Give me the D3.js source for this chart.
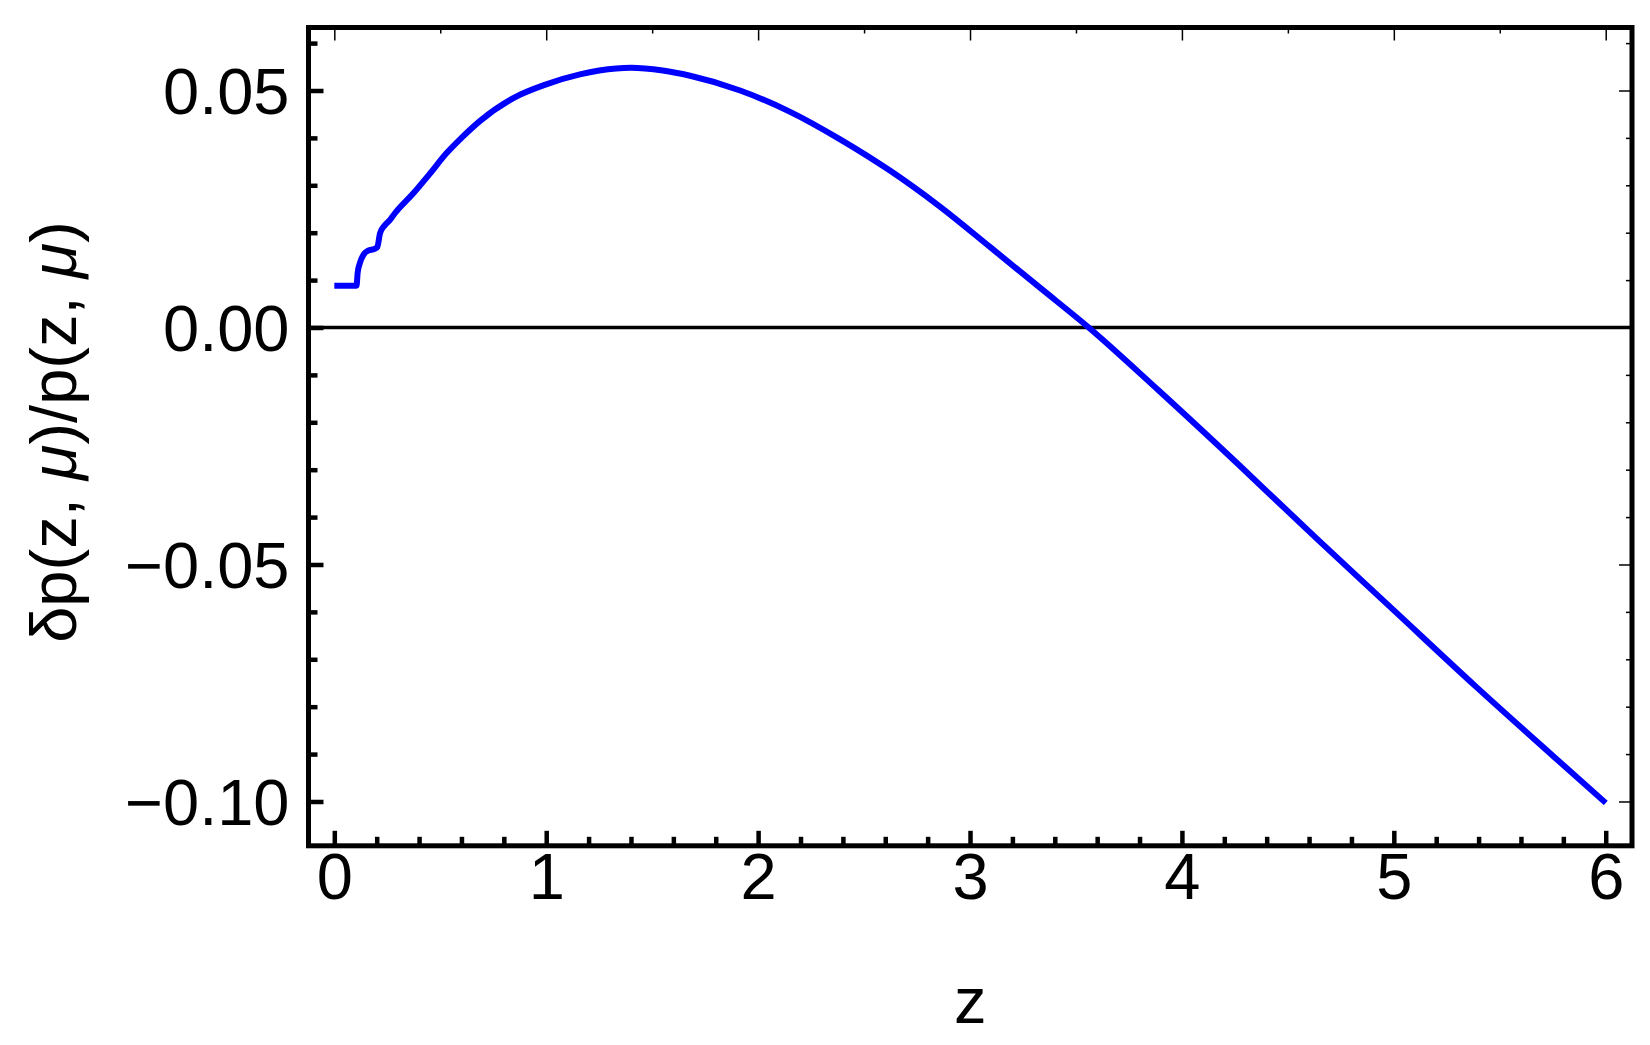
<!DOCTYPE html>
<html>
<head>
<meta charset="utf-8">
<script src="https://cdn.jsdelivr.net/npm/d3@7"></script>
<style>
  html, body { margin: 0; padding: 0; background: #ffffff; }
  svg { display: block; }
  text { font-family: "Liberation Sans", Arial, sans-serif; fill: #000; }
</style>
</head>
<body>
<div id="chart"></div>
<script>
// ---- data ----
const zValues = [0, 0.10, 0.105, 0.11, 0.12, 0.14, 0.16, 0.19, 0.203, 0.216, 0.239, 0.263, 0.286,
  0.373, 0.45, 0.53, 0.60, 0.688, 0.845, 1.0, 1.159, 1.25, 1.40, 1.55, 1.679, 1.915, 2.151,
  2.387, 2.622, 2.858, 3.094, 3.33, 3.56, 3.888, 4.262, 4.635, 5.008, 5.381, 5.754, 6.0];
const ratioValues = [0.0088, 0.0088, 0.0088, 0.0115, 0.0135, 0.0155, 0.0162, 0.0166, 0.0170, 0.0199, 0.0216, 0.0227, 0.0241,
  0.0283, 0.0324, 0.0368, 0.0400, 0.0436, 0.0484, 0.0513, 0.0534, 0.0542, 0.0548, 0.0542, 0.0531, 0.0500, 0.0455,
  0.0397, 0.0331, 0.0255, 0.0170, 0.0084, 0.0, -0.0132, -0.0287, -0.0445, -0.0600, -0.0755, -0.0905, -0.1003];

const xMajorTicks = [0, 1, 2, 3, 4, 5, 6];
const xTickLabels = ["0", "1", "2", "3", "4", "5", "6"];
const xMinorStep = 0.2;
const xTopMinorStep = 0.5;
const yMajorTicks = [-0.10, -0.05, 0.00, 0.05];
const yTickLabels = ["\u22120.10", "\u22120.05", "0.00", "0.05"];
const yMinorStep = 0.01;
const xDomain = [-0.1218, 6.124];
const yDomain = [-0.10935, 0.06329];
const xTitle = "z";

// ---- layout ----
const W = 1650, H = 1045;
const L = 308.5, R = 1632, T = 27.5, B = 845.8;
const FS = 65;

const svg = d3.select("#chart").append("svg").attr("width", W).attr("height", H);

const x = d3.scaleLinear().domain(xDomain).range([L, R]);
const y = d3.scaleLinear().domain(yDomain).range([B, T]);

function stepTicks(lo, hi, step) {
  const out = [];
  const n0 = Math.ceil(lo / step - 1e-9), n1 = Math.floor(hi / step + 1e-9);
  for (let i = n0; i <= n1; i++) out.push(+(i * step).toFixed(6));
  return out;
}
const xMinor = stepTicks(xDomain[0], xDomain[1], xMinorStep).filter(v => !xMajorTicks.some(m => Math.abs(m - v) < 1e-6));
const xTopMinor = stepTicks(xDomain[0], xDomain[1], xTopMinorStep).filter(v => !xMajorTicks.some(m => Math.abs(m - v) < 1e-6));
const yMinor = stepTicks(yDomain[0], yDomain[1], yMinorStep).filter(v => !yMajorTicks.some(m => Math.abs(m - v) < 1e-6));

// clip
svg.append("defs").append("clipPath").attr("id", "clip")
  .append("rect").attr("x", L).attr("y", T).attr("width", R - L).attr("height", B - T);

// zero line
svg.append("line")
  .attr("x1", L).attr("x2", R).attr("y1", y(0)).attr("y2", y(0))
  .attr("stroke", "#000").attr("stroke-width", 3.5);

// curve
const data = zValues.map((z, i) => ({ z, v: ratioValues[i] }));
const line = d3.line().x(d => x(d.z)).y(d => y(d.v)).curve(d3.curveMonotoneX);
svg.append("path").datum(data)
  .attr("clip-path", "url(#clip)")
  .attr("fill", "none").attr("stroke", "#0000ff").attr("stroke-width", 6)
  .attr("stroke-linejoin", "round")
  .attr("d", line);

function styleAxis(g, width) {
  g.select(".domain").remove();
  g.selectAll(".tick line").attr("stroke", "#000").attr("stroke-width", width);
}

// bottom axis (thick ticks, labels)
const gB = svg.append("g").attr("transform", `translate(0,${B})`)
  .call(d3.axisBottom(x).tickValues(xMajorTicks).tickSize(-15).tickPadding(7)
    .tickFormat((d, i) => xTickLabels[i]));
styleAxis(gB, 4.5);
gB.selectAll("text").attr("font-size", FS).attr("font-family", "Liberation Sans, Arial, sans-serif").attr("fill", "#000");
const gBm = svg.append("g").attr("transform", `translate(0,${B})`)
  .call(d3.axisBottom(x).tickValues(xMinor).tickSize(-9).tickFormat(""));
styleAxis(gBm, 4.5);

// top axis (thin ticks)
const gT = svg.append("g").attr("transform", `translate(0,${T})`)
  .call(d3.axisTop(x).tickValues(xMajorTicks).tickSize(-13).tickFormat(""));
styleAxis(gT, 1.5);
const gTm = svg.append("g").attr("transform", `translate(0,${T})`)
  .call(d3.axisTop(x).tickValues(xTopMinor).tickSize(-6).tickFormat(""));
styleAxis(gTm, 1.5);

// left axis (thick ticks, labels)
const gL = svg.append("g").attr("transform", `translate(${L},0)`)
  .call(d3.axisLeft(y).tickValues(yMajorTicks).tickSize(-15).tickPadding(19)
    .tickFormat((d, i) => yTickLabels[i]));
styleAxis(gL, 4.5);
gL.selectAll("text").attr("font-size", FS).attr("dy", "0.355em")
  .attr("font-family", "Liberation Sans, Arial, sans-serif").attr("fill", "#000");
const gLm = svg.append("g").attr("transform", `translate(${L},0)`)
  .call(d3.axisLeft(y).tickValues(yMinor).tickSize(-9).tickFormat(""));
styleAxis(gLm, 4.5);

// right axis (thin ticks)
const gR = svg.append("g").attr("transform", `translate(${R},0)`)
  .call(d3.axisRight(y).tickValues(yMajorTicks).tickSize(-13).tickFormat(""));
styleAxis(gR, 1.5);
const gRm = svg.append("g").attr("transform", `translate(${R},0)`)
  .call(d3.axisRight(y).tickValues(yMinor).tickSize(-6).tickFormat(""));
styleAxis(gRm, 1.5);

// frame
svg.append("rect").attr("x", L).attr("y", T).attr("width", R - L).attr("height", B - T)
  .attr("fill", "none").attr("stroke", "#000").attr("stroke-width", 5);

// x title
svg.append("text").attr("x", (L + R) / 2).attr("y", 1023)
  .attr("text-anchor", "middle").attr("font-size", FS).text(xTitle);

// y title
const yt = svg.append("text")
  .attr("transform", `translate(76,${432})rotate(-90)`)
  .attr("text-anchor", "middle").attr("font-size", FS);
yt.append("tspan").text("\u03b4p(z, ");
yt.append("tspan").attr("font-style", "italic").text("\u03bc");
yt.append("tspan").text(")/p(z, ");
yt.append("tspan").attr("font-style", "italic").text("\u03bc");
yt.append("tspan").text(")");
</script>
</body>
</html>
